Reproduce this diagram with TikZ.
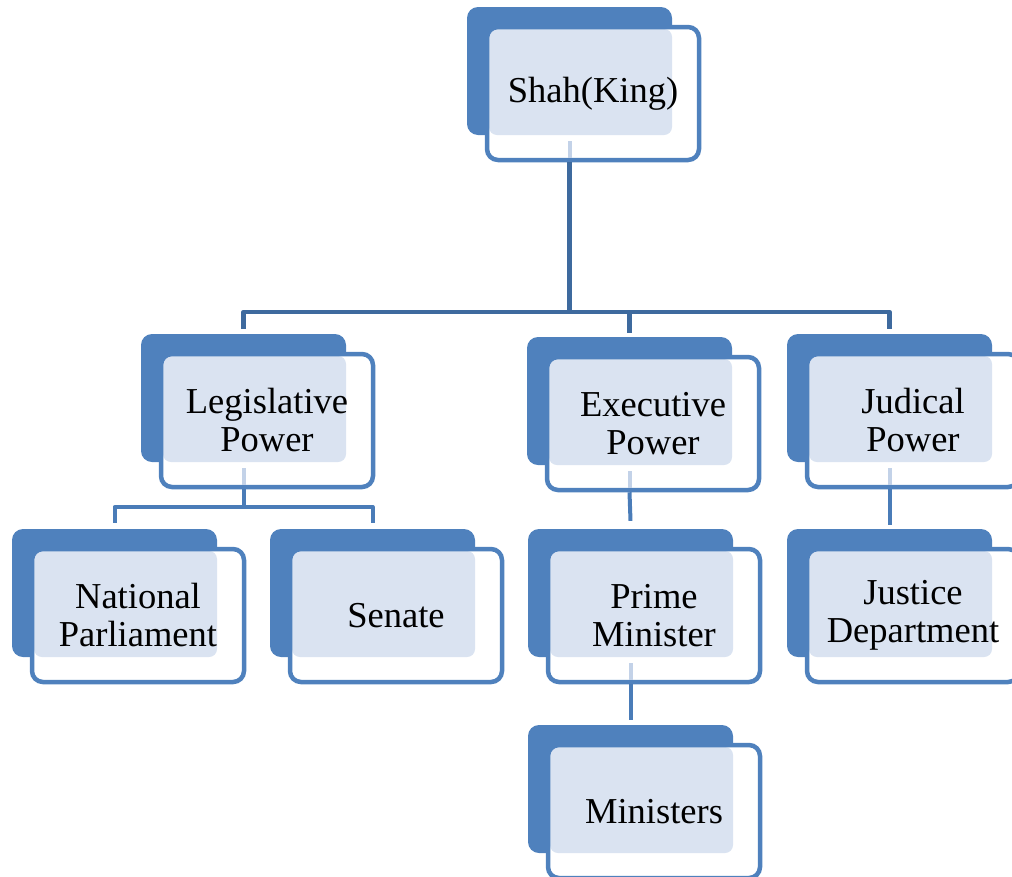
\documentclass[tikz,border=0pt]{standalone}
\usepackage{fontspec}
\setmainfont{Liberation Serif}
\definecolor{boxblue}{HTML}{4F81BD}
\definecolor{stip}{HTML}{DAE3F1}
\definecolor{faintc}{HTML}{C3D2E8}
\definecolor{connA}{HTML}{3E6A9E}
\definecolor{connB}{HTML}{4A7CB8}
\tikzset{
  backbox/.style={rectangle, rounded corners=11pt, fill=boxblue, minimum width=205pt, minimum height=128pt, inner sep=0pt},
  frontbox/.style={rectangle, rounded corners=11pt, draw=boxblue, line width=4.5pt, minimum width=212pt, minimum height=133pt, inner sep=0pt, align=center, font={\fontsize{36.5}{38}\selectfont}},
  connAline/.style={draw=connA, line width=4.6pt, line join=round},
  connBline/.style={draw=connB, line width=4pt, line join=round},
  faintline/.style={draw=faintc, line width=4pt}
}
\newcommand\orgunit[4]{%
  \node[backbox] (#1B) at (#2+102.5,#3+64) {};
  \fill[white, rounded corners=11pt] (#2+20,#3+20) rectangle (#2+232,#3+153);
  \fill[stip, rounded corners=8pt] (#2+22,#3+22) rectangle (#2+205,#3+128);
  \node[frontbox] (#1) at (#2+126,#3+86.5) {#4};
}
\begin{document}
\begin{tikzpicture}[x=1pt,y=-1pt]
\useasboundingbox (0,0) rectangle (1012,876);
\clip (0,0) rectangle (1012,876);
\orgunit{shah}{467}{7}{Shah(King)}
\orgunit{leg}{141}{334}{Legislative\\Power}
\orgunit{exe}{527}{337}{Executive\\Power}
\orgunit{jud}{787}{334}{Judical\\Power}
\orgunit{nat}{12}{529}{National\\Parliament}
\orgunit{sen}{270}{529}{Senate}
\orgunit{pm}{528}{529}{Prime\\Minister}
\orgunit{jus}{787}{529}{Justice\\Department}
\orgunit{min}{528}{725}{Ministers}
% faint segments inside boxes
\foreach \n in {shah,leg,exe,jud,pm}{
  \draw[faintline] ([yshift=-6pt]\n B.south) -- ([yshift=4pt]\n B.south |- \n.south);
}
% top level
\draw[connAline] (shahB.south |- shah.south) -- (shahB.south |- 0,312);
\draw[connAline] ([yshift=5pt]legB.north) |- (shahB.south |- 0,312);
\draw[connAline] ([yshift=5pt]judB.north) |- (shahB.south |- 0,312);
\draw[connAline] ([yshift=4pt]exeB.north) -- (exeB.north |- 0,312);
% legislative
\draw[connBline] (legB.south |- leg.south) -- (legB.south |- 0,507);
\draw[connBline] ([yshift=6pt]natB.north) |- (senB.north |- 0,507) -- ([yshift=6pt]senB.north);
% executive
\draw[connBline] (exeB.south |- exe.south) -- ([yshift=8pt]pmB.north);
\draw[connBline] (pmB.south |- pm.south) -- ([yshift=5pt]minB.north);
% judical
\draw[connBline] (judB.south |- jud.south) -- ([yshift=4pt]jusB.north);
\end{tikzpicture}
\end{document}
